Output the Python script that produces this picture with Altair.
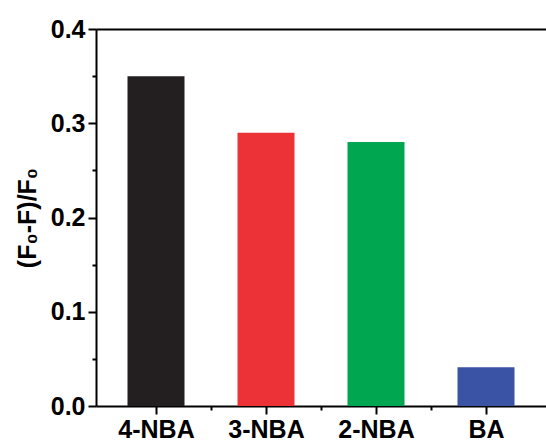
import altair as alt
import pandas as pd

categories = ["4-NBA", "3-NBA", "2-NBA", "BA"]
positions = [1, 2, 3, 4]
values = [0.35, 0.29, 0.28, 0.041]
colors = ["#231f20", "#ec3237", "#00a650", "#3a53a4"]
y_major = [0.0, 0.1, 0.2, 0.3, 0.4]
y_minor = [0.05, 0.15, 0.25, 0.35]
x_minor = [1.5, 2.5, 3.5]

df = pd.DataFrame({"cat": categories, "pos": positions, "val": values})

FONT = "Liberation Sans"
FS = 25
label_expr = "datum.value == 1 ? '4-NBA' : datum.value == 2 ? '3-NBA' : datum.value == 3 ? '2-NBA' : datum.value == 4 ? 'BA' : ''"

xscale = alt.Scale(domain=[0.5, 4.5], nice=False, zero=False)
yscale = alt.Scale(domain=[0, 0.4], nice=False)

bars = alt.Chart(df).mark_bar(size=57, stroke=None).encode(
    x=alt.X("pos:Q", scale=xscale,
            axis=alt.Axis(values=positions, labelExpr=label_expr, orient="bottom",
                          title=None, tickSize=8, tickWidth=2, domainWidth=2,
                          domainColor="black", tickColor="black",
                          labelFont=FONT, labelFontSize=FS, labelFontWeight="bold",
                          labelColor="black", labelPadding=3, grid=False)),
    y=alt.Y("val:Q", scale=yscale,
            axis=alt.Axis(values=y_major, format=".1f", orient="left",
                          title="(F₀-F)/F₀", titleFont=FONT, titleFontSize=FS,
                          titleFontWeight="bold", titleColor="black", titlePadding=10,
                          tickSize=8, tickWidth=2, domainWidth=2,
                          domainColor="black", tickColor="black",
                          labelFont=FONT, labelFontSize=FS, labelFontWeight="bold",
                          labelColor="black", labelPadding=3, grid=False)),
    color=alt.Color("cat:N", scale=alt.Scale(domain=categories, range=colors), legend=None),
)

minor = alt.Chart(df).mark_point(opacity=0).encode(
    x=alt.X("pos:Q", scale=xscale,
            axis=alt.Axis(values=x_minor, labels=False, orient="bottom", title=None,
                          tickSize=4, tickWidth=2, domain=False, tickColor="black", grid=False)),
    y=alt.Y("val:Q", scale=yscale,
            axis=alt.Axis(values=y_minor, labels=False, orient="left", title=None,
                          tickSize=4, tickWidth=2, domain=False, tickColor="black", grid=False)),
)

frame = alt.Chart(df).mark_point(opacity=0).encode(
    x=alt.X("pos:Q", scale=xscale,
            axis=alt.Axis(orient="top", labels=False, ticks=False, title=None,
                          domainWidth=2, domainColor="black", grid=False)),
)

chart = alt.layer(bars, minor, frame).resolve_axis(x="independent", y="independent").properties(
    width=450, height=377,
    autosize=alt.AutoSizeParams(type="none"),
    padding={"left": 96, "top": 29, "right": 0, "bottom": 36},
).configure_view(stroke=None).configure(background="white")

chart.save("out.html", embed_options={"renderer": "svg", "actions": False})
